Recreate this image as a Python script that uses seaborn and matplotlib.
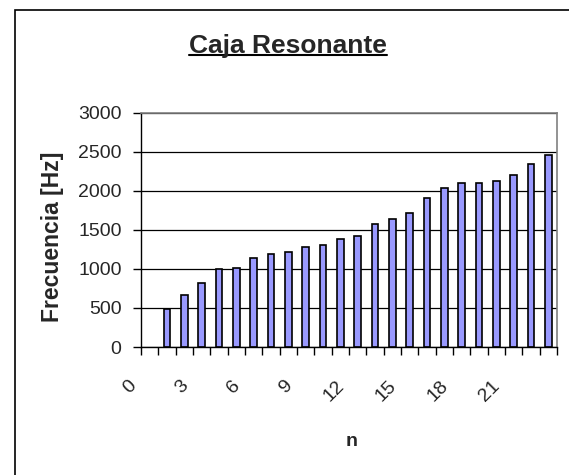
import numpy as np
import pandas as pd
import seaborn as sns
import matplotlib
matplotlib.use('Agg')
import matplotlib.pyplot as plt
import matplotlib.transforms as mtrans
from matplotlib.lines import Line2D
from matplotlib.patches import Rectangle

# data (n = 0 has no value)
n_vals = [str(i) for i in range(24)]
freq = [np.nan, 490, 660, 825, 995, 1015, 1140, 1190, 1210, 1280, 1310, 1385,
        1425, 1575, 1645, 1720, 1910, 2030, 2100, 2100, 2130, 2205, 2345, 2460]
y_ticks = [0, 500, 1000, 1500, 2000, 2500, 3000]
x_label_step = 3

title = 'Caja Resonante'
x_name = 'n'
y_name = 'Frecuencia [Hz]'

sns.set_style('white')
plt.rcParams['font.family'] = ['Liberation Sans', 'DejaVu Sans']

data = pd.DataFrame({'n': n_vals, 'f': freq})

fig = plt.figure(figsize=(5.69, 4.75), dpi=100)
ax = fig.add_axes([141/569, 1-347/475, (557-141)/569, (347-112.7)/475])

sns.barplot(data=data, x='n', y='f', order=n_vals, color='#9999FF',
            edgecolor='black', linewidth=1.2, width=0.4, saturation=1,
            errorbar=None, ax=ax, zorder=3)

ax.set_xlim(-0.5, len(n_vals)-0.5)
ax.set_ylim(y_ticks[0], y_ticks[-1])
ax.set_yticks(y_ticks)
ax.set_yticklabels([str(v) for v in y_ticks], fontsize=14)
ax.yaxis.grid(True, color='black', linewidth=0.9, zorder=0)
ax.set_axisbelow(True)

# category labels every 3rd, tick marks at category boundaries
major = list(range(0, len(n_vals), x_label_step))
ax.set_xticks(major)
ax.set_xticklabels([n_vals[i] for i in major], fontsize=14, rotation=45,
                   ha='right', va='top')
ax.set_xticks(np.arange(-0.5, len(n_vals), 1.0), minor=True)
ax.tick_params(axis='x', which='major', length=0, pad=22)
ax.tick_params(axis='x', which='minor', length=6, width=1, color='black',
               direction='out', bottom=True)
ax.tick_params(axis='y', length=6, width=1, color='black', direction='out',
               left=True, pad=8)
offset = mtrans.ScaledTranslation(-10/100, 0, fig.dpi_scale_trans)
for lab in ax.get_xticklabels():
  lab.set_transform(lab.get_transform() + offset)

ax.set_xlabel('')
ax.set_ylabel('')

for side in ['top', 'right']:
  ax.spines[side].set_color('#808080')
  ax.spines[side].set_linewidth(1.2)
for side in ['left', 'bottom']:
  ax.spines[side].set_color('black')
  ax.spines[side].set_linewidth(1.0)
for sp in ax.spines.values():
  sp.set_zorder(4)

# chart frame (only left and top inside the picture)
fig.patches.append(Rectangle((14.5/569, -0.1), 1.2, 1-9.5/475+0.1,
                             transform=fig.transFigure, fill=False,
                             edgecolor='black', linewidth=1.2))

t = fig.text(288/569, 1-46/475, title, fontsize=19, fontweight='bold',
             ha='center', va='center')
fig.text(52/569, 1-237/475, y_name, fontsize=16.5, fontweight='bold',
         rotation=90, ha='center', va='center')
fig.text(352/569, 1-442/475, x_name, fontsize=14, fontweight='bold',
         ha='center', va='center')

# underline the title
fig.canvas.draw()
bb = t.get_window_extent(fig.canvas.get_renderer())
yl = (bb.y0 + 3) / fig.bbox.height
fig.add_artist(Line2D([bb.x0/fig.bbox.width, bb.x1/fig.bbox.width], [yl, yl],
                      transform=fig.transFigure, color='black', linewidth=1.5))

plt.savefig('out.png', dpi=100)
